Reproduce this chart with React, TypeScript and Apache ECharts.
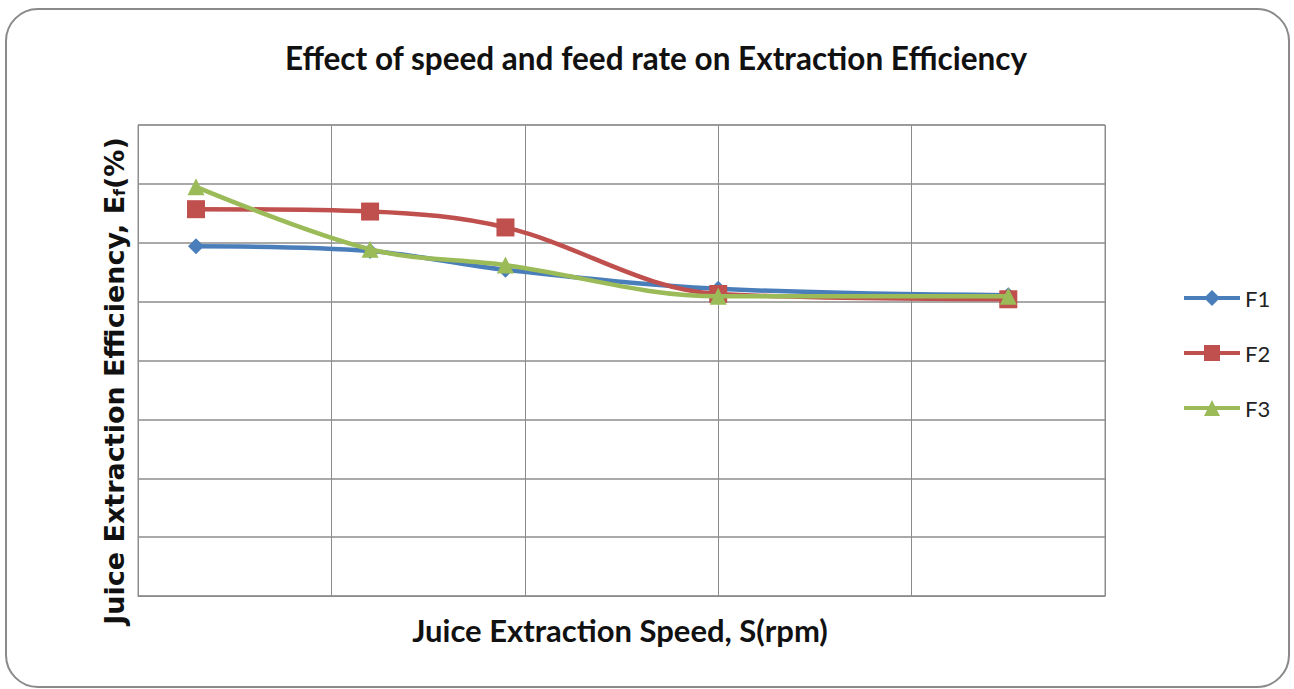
import React, { useEffect, useRef } from "react";
import * as echarts from "echarts";

const speeds = [0.3, 1.2, 1.9, 3.0, 4.5];
const f1 = [5.94, 5.86, 5.54, 5.22, 5.11];
const f2 = [6.57, 6.53, 6.26, 5.13, 5.04];
const f3 = [6.95, 5.89, 5.62, 5.09, 5.09];
const seriesNames = ["F1", "F2", "F3"];

export default function App() {
  const ref = useRef<HTMLDivElement>(null);
  useEffect(() => {
    document.body.style.margin = "0";
    const chart = echarts.init(ref.current!, null, { renderer: "svg" });
    const pair = (ys: number[]) => speeds.map((x, i) => [x, ys[i]]);
    const colors = ["#4A7EBB", "#C0504D", "#9BBB59"];
    const symbols = ["diamond", "rect", "triangle"];
    const sizes = [16, 18, 17];
    const data = [f1, f2, f3];
    chart.setOption({
      animation: false,
      backgroundColor: "#ffffff",
      title: {
        text: "Effect of speed and feed rate on Extraction Efficiency",
        left: 651,
        top: 37,
        textAlign: "center",
        textStyle: {
          fontFamily: "Lato",
          fontWeight: "bold",
          fontSize: 31.5,
          color: "#111",
        },
      },
      grid: {
        left: 138,
        top: 125,
        width: 967,
        height: 471,
        show: true,
        borderColor: "#8c8c8c",
        borderWidth: 1,
      },
      legend: {
        orient: "vertical",
        left: 1177,
        top: 282,
        itemWidth: 56,
        itemHeight: 20,
        itemGap: 33,
        data: seriesNames,
        lineStyle: { width: 4 },
        textStyle: { fontFamily: "Lato", fontSize: 22, color: "#222" },
      },
      xAxis: {
        type: "value",
        min: 0,
        max: 5,
        interval: 1,
        axisLabel: { show: false },
        axisTick: { show: false },
        axisLine: { show: true, lineStyle: { color: "#8c8c8c", width: 1 } },
        splitLine: { show: true, lineStyle: { color: "#8c8c8c", width: 1 } },
      },
      yAxis: {
        type: "value",
        min: 0,
        max: 8,
        interval: 1,
        axisLabel: { show: false },
        axisTick: { show: false },
        axisLine: { show: true, lineStyle: { color: "#8c8c8c", width: 1 } },
        splitLine: { show: true, lineStyle: { color: "#8c8c8c", width: 1.5 } },
      },
      series: seriesNames.map((name, i) => ({
        name,
        type: "line",
        smooth: 0.35,
        data: pair(data[i]),
        symbol: symbols[i],
        symbolSize: sizes[i],
        lineStyle: { width: 4.5, color: colors[i] },
        itemStyle: { color: colors[i] },
        z: 2 + i,
      })),
      graphic: [
        {
          type: "rect",
          shape: { x: 6, y: 9, width: 1283, height: 678, r: 32 },
          style: { fill: "none", stroke: "#8a8a8a", lineWidth: 2 },
          silent: true,
        },
        {
          type: "text",
          x: 620,
          y: 630,
          style: {
            text: "Juice Extraction Speed, S(rpm)",
            fontFamily: "Lato",
            fontWeight: "bold",
            fontSize: 31,
            fill: "#111",
            textAlign: "center",
            textVerticalAlign: "middle",
          },
        },
        {
          type: "text",
          x: 114,
          y: 381,
          rotation: Math.PI / 2,
          style: {
            text: "Juice Extraction Efficiency, E{sub|f}(%)",
            fontFamily: "DejaVu Sans",
            fontWeight: "bold",
            fontSize: 27,
            fill: "#111",
            textAlign: "center",
            textVerticalAlign: "middle",
            rich: {
              sub: {
                fontFamily: "DejaVu Sans",
                fontWeight: "bold",
                fontSize: 16,
                fill: "#111",
                padding: [10, 0, 0, 0],
              },
            },
          },
        },
      ],
    });
    return () => chart.dispose();
  }, []);
  return <div ref={ref} style={{ width: 1294, height: 689 }} />;
}
